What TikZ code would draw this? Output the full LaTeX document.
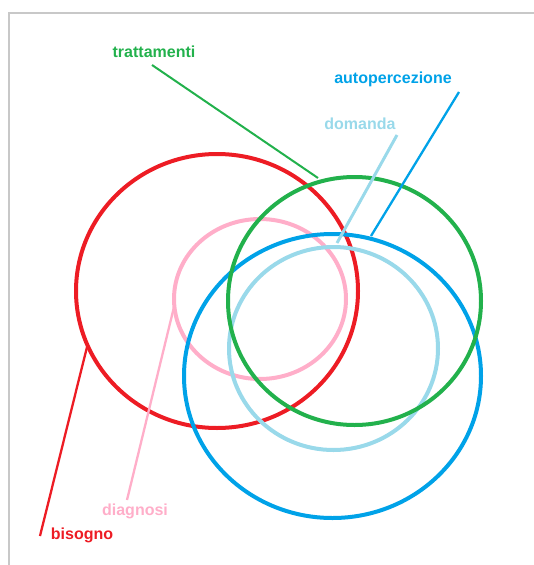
\documentclass[tikz,border=0pt]{standalone}
\usepackage{fontspec}
\setmainfont{Liberation Sans}
\definecolor{cred}{HTML}{ED1C24}
\definecolor{cgreen}{HTML}{22B14C}
\definecolor{cblue}{HTML}{00A2E8}
\definecolor{clblue}{HTML}{99D9EA}
\definecolor{cpink}{HTML}{FFAEC9}
\definecolor{cframe}{HTML}{C8C8C8}
\begin{document}
\begin{tikzpicture}[x=1pt,y=-1pt,
  ring/.style={line width=4pt},
  lead/.style={line width=2.3pt},
  lbl/.style={font=\fontsize{16}{17}\selectfont\bfseries, inner sep=0pt}]
\useasboundingbox (0,0) rectangle (534,565);
% frame
\draw[cframe, line width=2.5pt] (9,565) -- (9,13) -- (534,13);
% circles
\draw[ring, cred]   (217,291) ellipse (141 and 137);
\draw[ring, cpink]  (260,299) ellipse (86 and 80);
\draw[ring, clblue] (333.5,348.5) ellipse (104.5 and 101.5);
\draw[ring, cblue]  (332.5,376) ellipse (148.5 and 142);
\draw[ring, cgreen] (354.5,301) ellipse (126.5 and 124);
% labels
\node[lbl, text=cgreen] (tratt) at (154,52) {trattamenti};
\node[lbl, text=cblue] (auto) at (393,79) {autopercezione};
\node[lbl, text=clblue] (dom) at (360,124) {domanda};
\node[lbl, text=cpink] (diag) at (135,511) {diagnosi};
\node[lbl, text=cred] (bis) at (82,535) {bisogno};
% leader coordinates
\coordinate (t1) at (152,65);  \coordinate (t2) at (318,178);
\coordinate (a1) at (459,92);  \coordinate (a2) at (371,236);
\coordinate (d1) at (397,135); \coordinate (d2) at (337,243);
\coordinate (g1) at (174,307); \coordinate (g2) at (127,500);
\coordinate (b1) at (87,347);  \coordinate (b2) at (40,536);
\draw[lead, cgreen, line width=2pt] (t1) -- (t2);
\draw[lead, cblue] (a1) -- (a2);
\draw[lead, clblue, line width=3pt] (d1) -- (d2);
\draw[lead, cpink] (g1) -- (g2);
\draw[lead, cred] (b1) -- (b2);
\end{tikzpicture}
\end{document}
